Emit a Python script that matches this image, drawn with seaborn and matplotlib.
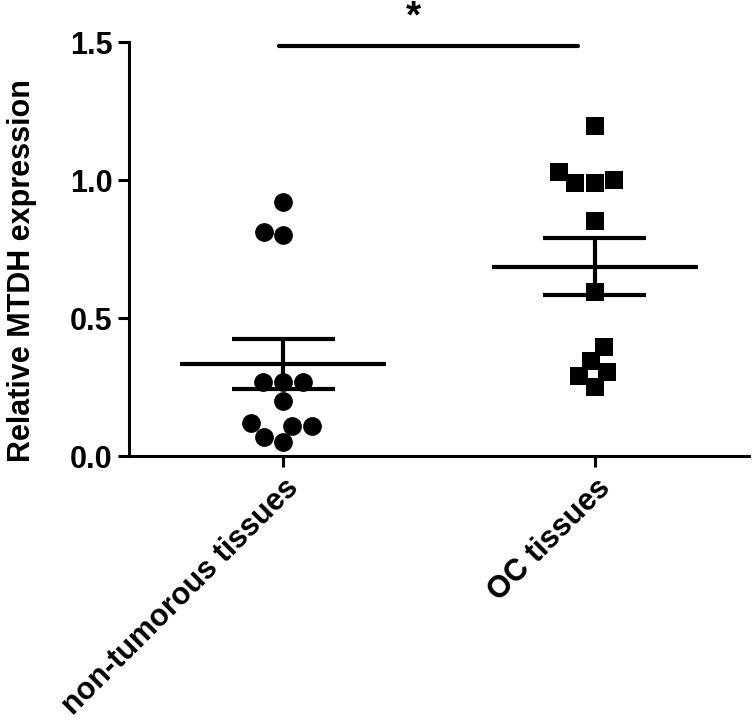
import numpy as np
import pandas as pd
import matplotlib
matplotlib.use("Agg")
import matplotlib.pyplot as plt
import seaborn as sns

categories = ["non-tumorous tissues", "OC tissues"]
non_tumorous = [0.92, 0.80, 0.81, 0.27, 0.27, 0.27, 0.20, 0.12, 0.11, 0.05, 0.07, 0.11]
oc_tissues = [1.195, 1.00, 0.99, 0.99, 1.03, 0.85, 0.596, 0.396, 0.305, 0.25, 0.29, 0.345]
y_ticks = [0.0, 0.5, 1.0, 1.5]
y_label = "Relative MTDH expression"
sig_text = "*"

sns.set_theme(style="ticks")
plt.rcParams["font.family"] = ["Liberation Sans", "DejaVu Sans"]
plt.rcParams["font.weight"] = "bold"
plt.rcParams["text.color"] = "black"
plt.rcParams["axes.labelcolor"] = "black"
plt.rcParams["xtick.color"] = "black"
plt.rcParams["ytick.color"] = "black"

df = pd.DataFrame({
    "group": [categories[0]] * len(non_tumorous) + [categories[1]] * len(oc_tissues),
    "value": non_tumorous + oc_tissues,
})

fig = plt.figure(figsize=(7.54, 7.21), dpi=100)
ax = fig.add_axes([0.1711, 0.3675, 0.8223, 0.5742])

sns.swarmplot(data=df[df.group == categories[0]], x="group", y="value", order=categories,
              color="black", marker="o", size=13.5, linewidth=0, ax=ax)
sns.swarmplot(data=df[df.group == categories[1]], x="group", y="value", order=categories,
              color="black", marker="s", size=13.5, linewidth=0, ax=ax)

for i, vals in enumerate([non_tumorous, oc_tissues]):
    v = np.array(vals)
    m = v.mean()
    se = v.std(ddof=1) / np.sqrt(len(v))
    ax.hlines(m, i - 0.33, i + 0.33, color="black", lw=3.0, zorder=5)
    ax.hlines([m - se, m + se], i - 0.165, i + 0.165, color="black", lw=3.0, zorder=5)
    ax.vlines(i, m - se, m + se, color="black", lw=3.0, zorder=5)

# significance bar
ax.plot([-0.013, 0.945], [1.486, 1.486], color="black", lw=3.0, clip_on=False,
        solid_capstyle="round")
ax.text(0.417, 1.59, sig_text, ha="center", va="center", fontsize=28,
        fontweight="bold", clip_on=False)

ax.set_xlim(-0.494, 1.494)
ax.set_ylim(0, 1.5)
ax.set_yticks(y_ticks)
ax.set_yticklabels([f"{t:.1f}" for t in y_ticks])
ax.set_xlabel("")
ax.set_ylabel(y_label, fontsize=22, fontweight="bold")
ax.yaxis.set_label_coords(-0.148, 0.449)
ax.set_xticks([0, 1])
ax.set_xticklabels(categories, rotation=45, ha="right", rotation_mode="anchor",
                   fontsize=22, fontweight="bold")
for lbl in ax.get_yticklabels():
    lbl.set_fontsize(22)
    lbl.set_fontweight("bold")

sns.despine(ax=ax)
for s in ["left", "bottom"]:
    ax.spines[s].set_linewidth(2.2)
    ax.spines[s].set_color("black")
ax.tick_params(axis="both", direction="out", length=8, width=2.2, color="black", pad=4)

fig.savefig("out.png", dpi=100)
